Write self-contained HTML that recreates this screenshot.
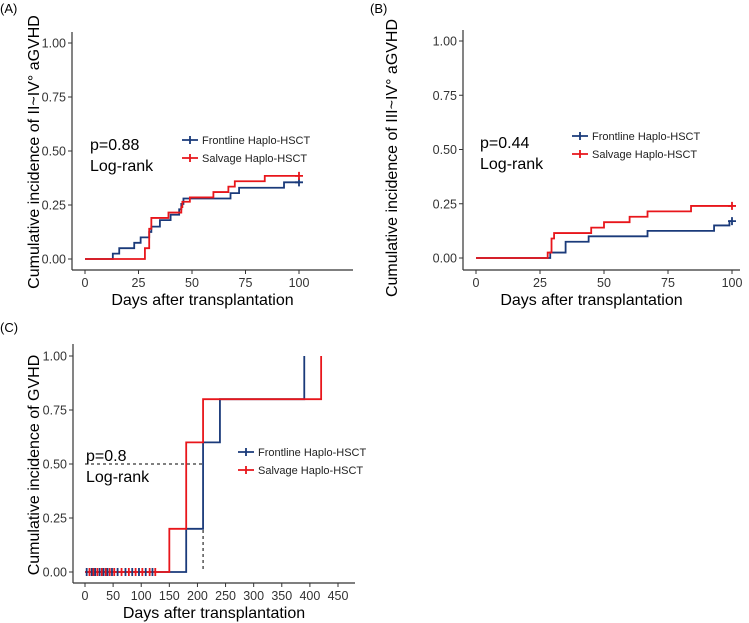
<!DOCTYPE html>
<html><head><meta charset="utf-8"><style>
body{margin:0;background:#fff}
svg{display:block;font-family:"Liberation Sans",Arial,sans-serif}
</style></head><body>
<svg id="s" width="749" height="623" viewBox="0 0 749 623" xmlns="http://www.w3.org/2000/svg"></svg>
<script>
// Panel A data
const aBlue = [[0,0],[13,0.025],[16,0.05],[23,0.075],[26,0.1],[30,0.125],[31,0.15],[35,0.18],[40,0.205],[44,0.23],[45,0.255],[46,0.28],[68,0.305],[72,0.33],[93,0.355],[100,0.355]];
const aRed = [[0,0],[28,0.05],[30,0.14],[31,0.19],[39,0.215],[45,0.24],[45.5,0.265],[49,0.285],[60,0.31],[67,0.335],[70,0.36],[84,0.385],[100,0.385]];
// Panel B data
const bBlue = [[0,0],[29,0.025],[35,0.075],[44,0.1],[67,0.125],[93,0.15],[99,0.17],[100,0.17]];
const bRed = [[0,0],[28,0.025],[29.5,0.09],[30.5,0.115],[45,0.14],[50,0.165],[60,0.19],[67,0.215],[84,0.24],[100,0.24]];
// Panel C data
const cBlue = [[0,0],[180,0.2],[210,0.6],[240,0.8],[390,1.0]];
const cRed = [[0,0],[150,0.2],[180,0.6],[210,0.8],[420,1.0]];
const cCensor = [3,8,12,15,18,22,26,30,33,37,40,44,48,52,58,65,72,78,84,90,96,102,108,115,120,125];
const yTicks = [0,0.25,0.5,0.75,1];
const yTickLabels = ["0.00","0.25","0.50","0.75","1.00"];
const abTicks = [0,25,50,75,100];
const cTicks = [0,50,100,150,200,250,300,350,400,450];

const S=document.getElementById('s');const NS='http://www.w3.org/2000/svg';
function el(t,a,p){const e=document.createElementNS(NS,t);for(const k in a)e.setAttribute(k,a[k]);(p||S).appendChild(e);return e;}
function txt(s,a,p){const e=el('text',a,p);e.textContent=s;return e;}
const BLUE='#1a3a7a',RED='#e8161b';

function panel(o){
  const g=el('g',{});
  
  
  const X=v=>o.x0+(v-o.xmin)*(o.x1-o.x0)/(o.xmax-o.xmin);
  const Y=v=>o.y0-(v)*(o.y0-o.y1);
  const lab=txt(o.label,{x:o.lx,y:o.ly,'font-size':13,fill:'#000'},g);
  
  const ya=el('line',{x1:o.ax,y1:o.top,x2:o.ax,y2:o.ay,stroke:'#333','stroke-width':1.2},g);
  
  const xa=el('line',{x1:o.ax,y1:o.ay,x2:o.right,y2:o.ay,stroke:'#333','stroke-width':1.2},g);
  
  yTicks.forEach((v,i)=>{
    el('line',{x1:o.ax-4,x2:o.ax,y1:Y(v),y2:Y(v),stroke:'#333'},g);
    const t=txt(yTickLabels[i],{x:o.ax-6,y:Y(v)+4.5,'font-size':12.5,'text-anchor':'end',fill:'#333'},g);
    
  });
  o.xt.forEach(v=>{
    el('line',{x1:X(v),x2:X(v),y1:o.ay,y2:o.ay+4,stroke:'#333'},g);
    const t=txt(String(v),{x:X(v),y:o.ay+17,'font-size':12.5,'text-anchor':'middle',fill:'#333'},g);
    
  });
  const xt=txt('Days after transplantation',{x:(o.ax+o.right)/2+o.xtoff,y:o.ay+35,'font-size':16,'text-anchor':'middle',fill:'#000'},g);
  
  const yt=txt(o.ytitle,{x:0,y:0,'font-size':16,'text-anchor':'middle',fill:'#000',transform:`translate(${o.ytx},${o.yty}) rotate(-90)`},g);
  
  if(o.dash){o.dash(X,Y,g);}
  [[o.blue,BLUE,'frontline-curve'],[o.red,RED,'salvage-curve']].forEach(([d,c,n])=>{
    let p=`M${X(d[0][0])},${Y(d[0][1])}`;
    for(let i=1;i<d.length;i++){p+=`H${X(d[i][0])}V${Y(d[i][1])}`;}
    const pa=el('path',{d:p,fill:'none',stroke:c,'stroke-width':1.8},g);
    
    if(o.endCensor){const l=d[d.length-1];const cx=X(l[0]),cy=Y(l[1]);
      el('path',{d:`M${cx-4},${cy}H${cx+4}M${cx},${cy-4}V${cy+4}`,stroke:c,'stroke-width':1.8},g);}
  });
  if(o.censor){o.censor.forEach((v,i)=>{const cx=X(v),cy=Y(0);const c=i%2?RED:BLUE;
    const m=el('path',{d:`M${cx},${cy-4}V${cy+4}`,stroke:c,'stroke-width':1.8},g);
    });}
  txt(o.p,{x:o.px,y:o.py,'font-size':16,fill:'#000'},g);
  txt('Log-rank',{x:o.px,y:o.py+21,'font-size':16,fill:'#000'},g);
  [['Frontline Haplo-HSCT',BLUE,0,'legend-frontline'],['Salvage Haplo-HSCT',RED,1,'legend-salvage']].forEach(([s,c,i,n])=>{
    const lg=el('g',{},g);
    const y=o.legy+i*18;
    el('path',{d:`M${o.legx},${y}h16M${o.legx+8},${y-4}v8`,stroke:c,'stroke-width':1.8},lg);
    txt(s,{x:o.legx+20,y:y+4,'font-size':11,fill:'#222'},lg);
  });
}
panel({name:'panel-a',label:'(A)',lx:0,ly:13,ax:72,ay:270,top:32,right:353,x0:85,x1:299,xmin:0,xmax:100,y0:259,y1:43,
  xt:abTicks,xtoff:-10,ytitle:'Cumulative incidence of II~IV° aGVHD',ytx:39,yty:152,blue:aBlue,red:aRed,endCensor:true,
  p:'p=0.88',px:90,py:150,legx:182,legy:140});
panel({name:'panel-b',label:'(B)',lx:370,ly:13,ax:463,ay:270,top:30,right:740,x0:476,x1:732,xmin:0,xmax:100,y0:258,y1:41,
  xt:abTicks,xtoff:-10,ytitle:'Cumulative incidence of III~IV° aGVHD',ytx:397,yty:158,blue:bBlue,red:bRed,endCensor:true,
  p:'p=0.44',px:480,py:148,legx:572,legy:136});
panel({name:'panel-c',label:'(C)',lx:0,ly:332,ax:73,ay:583,top:344,right:355,x0:85,x1:338,xmin:0,xmax:450,y0:572,y1:356,
  xt:cTicks,xtoff:0,ytitle:'Cumulative incidence of GVHD',ytx:39,yty:465,blue:cBlue,red:cRed,censor:cCensor,
  p:'p=0.8',px:86,py:461,legx:238,legy:452,
  dash:(X,Y,g)=>{const d=el('path',{d:`M${X(0)},${Y(0.5)}H${X(210)}M${X(180)},${Y(0.5)}V${Y(0)}M${X(210)},${Y(0.5)}V${Y(0)}`,stroke:'#000','stroke-width':1,'stroke-dasharray':'3,3',fill:'none'},g);
    }});
</script>
</body></html>
